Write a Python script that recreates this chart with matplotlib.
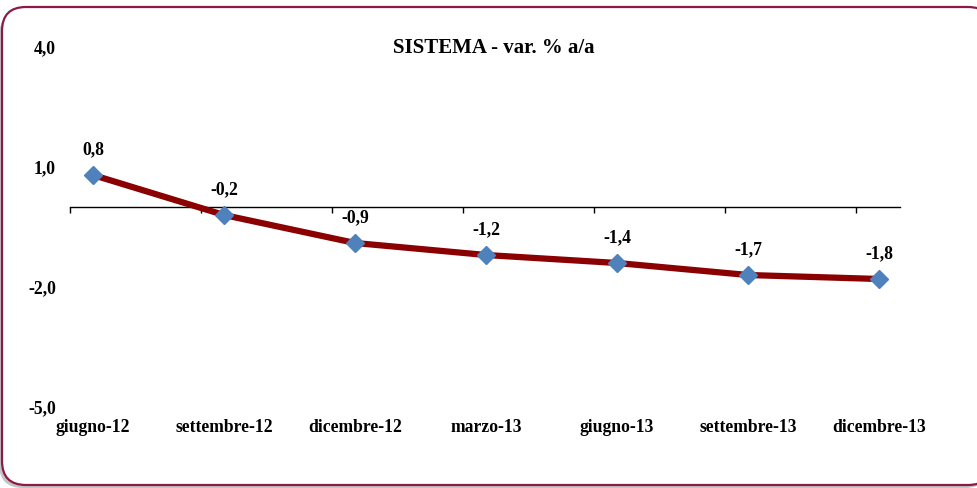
import matplotlib
matplotlib.use("Agg")
import matplotlib.pyplot as plt
import matplotlib.transforms as mtransforms
from matplotlib.patches import FancyBboxPatch
import numpy as np

categories = ["giugno-12", "settembre-12", "dicembre-12", "marzo-13",
              "giugno-13", "settembre-13", "dicembre-13"]
values = [0.8, -0.2, -0.9, -1.2, -1.4, -1.7, -1.8]
value_labels = ["0,8", "-0,2", "-0,9", "-1,2", "-1,4", "-1,7", "-1,8"]
y_ticks = [4.0, 1.0, -2.0, -5.0]
y_tick_labels = ["4,0", "1,0", "-2,0", "-5,0"]
title = "SISTEMA - var. % a/a"

plt.rcParams['font.family'] = ['Liberation Serif', 'DejaVu Serif']
plt.rcParams['font.weight'] = 'bold'

W, H = 978, 488
fig = plt.figure(figsize=(W / 100, H / 100), dpi=100)
fig.patch.set_facecolor('white')

# border with shadow (pixel coordinates)
ident = mtransforms.IdentityTransform()
shadow = FancyBboxPatch((-1, 0), 990, 476,
                        boxstyle='round,pad=0,rounding_size=24',
                        transform=ident, facecolor='#C4C4C4', edgecolor='none',
                        zorder=0)
fig.add_artist(shadow)
border = FancyBboxPatch((2, 3), 990, 478,
                        boxstyle='round,pad=0,rounding_size=24',
                        transform=ident, facecolor='white', edgecolor='#8C1A48',
                        linewidth=1.6, zorder=0.5)
fig.add_artist(border)

ax = fig.add_axes([70 / W, 1 - 407 / H, 830 / W, 360 / H])
ax.set_facecolor('none')
ax.set_zorder(2)

x = np.arange(len(categories))
step_px = 131.0
left_off = 23.0 / step_px
ax.set_xlim(-left_off, (900 - 93) / step_px)
ax.set_ylim(min(y_ticks), max(y_ticks))

ax.plot(x, values, color='#8B0000', linewidth=4.5, solid_capstyle='round',
        marker='D', markersize=9, markerfacecolor='#4F81BD',
        markeredgecolor='#4F81BD', zorder=3, clip_on=False)

for xi, v, lab in zip(x, values, value_labels):
    ax.annotate(lab, (xi, v), xytext=(0, 18), textcoords='offset points',
                ha='center', va='center', fontsize=12.7, fontweight='bold',
                color='black')

# x-axis line at zero with boundary ticks
for s in ['top', 'right', 'left']:
    ax.spines[s].set_visible(False)
ax.spines['bottom'].set_position(('data', 0))
ax.spines['bottom'].set_color('black')
ax.spines['bottom'].set_linewidth(1.0)
ax.set_xticks(x - left_off)
ax.tick_params(axis='x', direction='out', length=4, width=1, labelbottom=False)

ax.set_yticks(y_ticks)
ax.set_yticklabels(y_tick_labels)
ax.tick_params(axis='y', length=0, pad=10, labelsize=12.7)
for t in ax.get_yticklabels():
    t.set_fontweight('bold')

# category labels at bottom
trans = mtransforms.blended_transform_factory(ax.transData, ax.transAxes)
for xi, c in zip(x, categories):
    ax.text(xi, -0.058, c, transform=trans, ha='center', va='center',
            fontsize=12.7, fontweight='bold', color='black')

fig.text(494 / W, 1 - 48 / H, title, ha='center', va='center',
         fontsize=15, fontweight='bold', color='black')

fig.savefig('out.png', dpi=100)
